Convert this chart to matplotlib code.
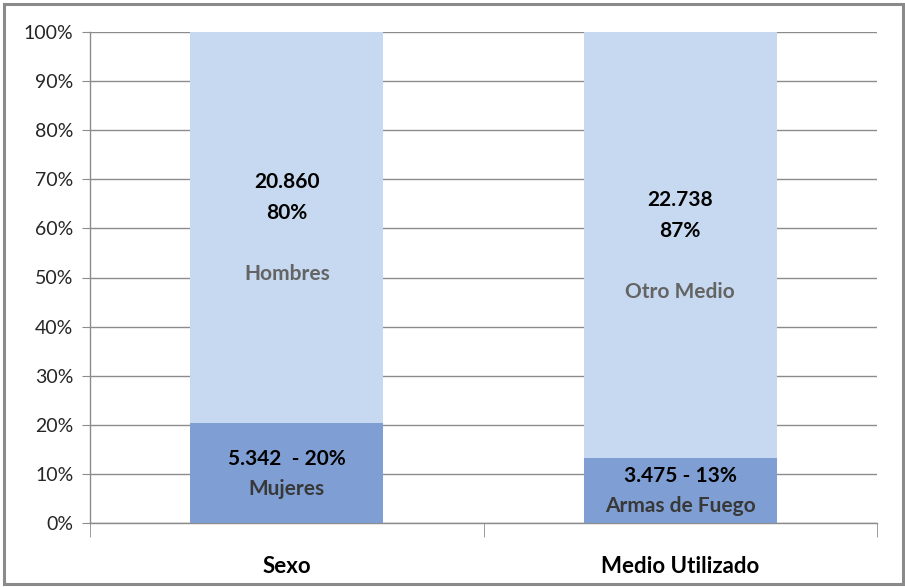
import matplotlib
matplotlib.use("Agg")
import matplotlib.pyplot as plt
from matplotlib.patches import Rectangle
from matplotlib.ticker import FixedLocator, FuncFormatter

plt.rcParams['font.family'] = ['Lato', 'DejaVu Sans']

categories = ["Sexo", "Medio Utilizado"]
bottom_counts = [5342, 3475]
top_counts = [20860, 22738]
bottom_names = ["Mujeres", "Armas de Fuego"]
top_names = ["Hombres", "Otro Medio"]
bottom_labels = ["5.342  - 20%", "3.475 - 13%"]
top_numbers = ["20.860", "22.738"]
top_pcts = ["80%", "87%"]
yticks = [0, 10, 20, 30, 40, 50, 60, 70, 80, 90, 100]

W, H = 905, 587
fig = plt.figure(figsize=(W / 100, H / 100), dpi=100)
fig.patches.append(Rectangle((4 / W, 3 / H), 899 / W, 580 / H, transform=fig.transFigure,
                             fill=False, edgecolor="#8a8a8a", linewidth=2.2))
ax = fig.add_axes([90 / W, (H - 523) / H, (877 - 90) / W, (523 - 32) / H])

totals = [b + t for b, t in zip(bottom_counts, top_counts)]
bpct = [b / tot * 100 for b, tot in zip(bottom_counts, totals)]
tpct = [t / tot * 100 for t, tot in zip(top_counts, totals)]
x = list(range(len(categories)))
light = "#C6D9F0"
dark = "#7F9FD4"
ax.bar(x, bpct, width=0.49, color=dark, zorder=3)
ax.bar(x, tpct, bottom=bpct, width=0.49, color=light, zorder=3)

ax.set_ylim(0, 100)
ax.set_xlim(-0.5, 1.5)
ax.yaxis.set_major_locator(FixedLocator(yticks))
ax.yaxis.set_major_formatter(FuncFormatter(lambda v, p: f"{int(v)}%"))
ax.grid(axis="y", color="#8c8c8c", linewidth=1.0, zorder=0)
ax.set_axisbelow(True)
for s in ["top", "right"]:
    ax.spines[s].set_visible(False)
for s in ["left", "bottom"]:
    ax.spines[s].set_color("#8c8c8c")
    ax.spines[s].set_linewidth(1.0)
ax.tick_params(axis="y", length=6, color="#8c8c8c", labelsize=14, pad=6, labelcolor="#262626")
ax.set_xticks(x)
ax.set_xticklabels(categories, fontsize=16, fontweight="bold")
ax.tick_params(axis="x", which="major", length=0, pad=24)
ax.set_xticks([-0.5, 0.5, 1.5], minor=True)
ax.tick_params(axis="x", which="minor", length=10, color="#8c8c8c")

fs = 15
for i in x:
    cy = bpct[i] + tpct[i] / 2
    ax.annotate(top_numbers[i], (i, cy), xytext=(0, 45), textcoords="offset pixels",
                ha="center", va="center", fontsize=fs, fontweight="bold",
                color="black", zorder=5)
    ax.annotate(top_pcts[i], (i, cy), xytext=(0, 14), textcoords="offset pixels",
                ha="center", va="center", fontsize=fs, fontweight="bold",
                color="black", zorder=5)
    ax.annotate(top_names[i], (i, cy), xytext=(0, -47), textcoords="offset pixels",
                ha="center", va="center", fontsize=fs, fontweight="bold",
                color="#646464", zorder=5)
    cb = bpct[i] / 2
    ax.annotate(bottom_labels[i], (i, cb), xytext=(0, 14), textcoords="offset pixels",
                ha="center", va="center", fontsize=fs, fontweight="bold",
                color="black", zorder=5)
    ax.annotate(bottom_names[i], (i, cb), xytext=(0, -16), textcoords="offset pixels",
                ha="center", va="center", fontsize=fs, fontweight="bold",
                color="#383838", zorder=5)

fig.savefig("out.png", dpi=100)
